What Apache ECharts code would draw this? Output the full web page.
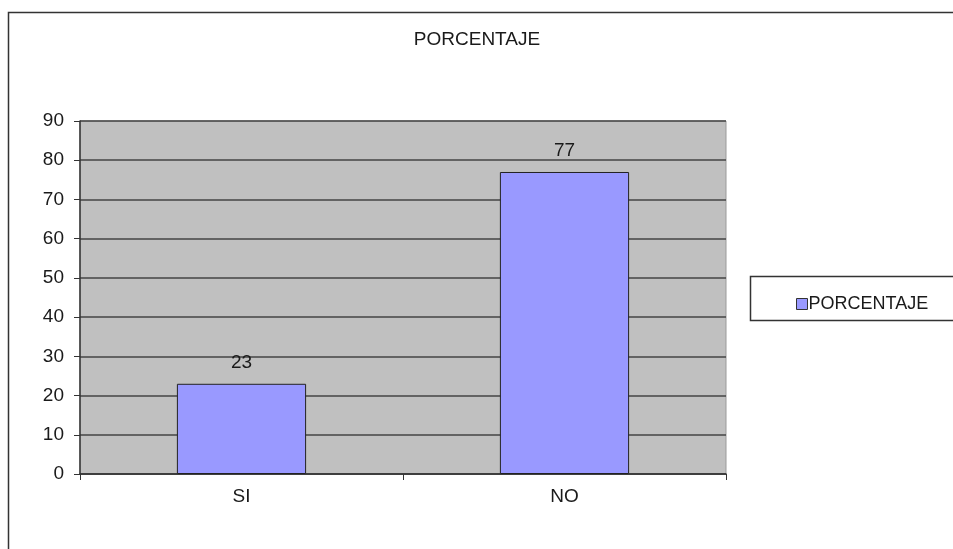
<!DOCTYPE html>
<html>
<head>
<meta charset="utf-8">
<script src="https://cdn.jsdelivr.net/npm/echarts@6/dist/echarts.min.js"></script>
<style>
html, body { margin: 0; padding: 0; background: #fff; }
#main { width: 953px; height: 549px; }
</style>
</head>
<body>
<div id="main"></div>
<script>
var categories = ['SI', 'NO'];
var porcentaje = [23, 77];
var seriesName = 'PORCENTAJE';

var myChart = echarts.init(document.getElementById('main'));

var option = {
    animation: false,
    textStyle: { fontFamily: 'Liberation Sans, Arial, sans-serif' },
    title: {
        text: 'PORCENTAJE',
        left: 472,
        top: 25,
        textAlign: 'center',
        textStyle: { fontSize: 19, fontWeight: 'normal', color: '#1a1a1a' }
    },
    graphic: [{
        type: 'rect',
        shape: { x: 8.5, y: 12.5, width: 960, height: 560 },
        style: { fill: 'none', stroke: '#333', lineWidth: 1.5 },
        z: -10
    }, {
        type: 'rect',
        shape: { x: 750.5, y: 276.5, width: 220, height: 44 },
        style: { fill: '#fff', stroke: '#333', lineWidth: 1.5 },
        z: 0
    }],
    legend: {
        data: [seriesName],
        left: 791,
        top: 290,
        itemWidth: 11,
        itemHeight: 11,
        itemGap: 2,
        icon: 'rect',
        textStyle: { fontSize: 18, color: '#1a1a1a', padding: [0, 0, 0, -4] },
        itemStyle: { borderColor: '#333', borderWidth: 1 },
        z: 5
    },
    grid: {
        left: 80,
        right: 227,
        top: 121,
        bottom: 75,
        show: true,
        backgroundColor: '#C0C0C0',
        borderColor: '#9a9a9a',
        borderWidth: 1
    },
    xAxis: {
        type: 'category',
        data: categories,
        axisLine: { lineStyle: { color: '#333', width: 1.5 } },
        axisTick: { show: true, length: 6, lineStyle: { color: '#333' } },
        axisLabel: { fontSize: 19, color: '#1a1a1a', margin: 13 }
    },
    yAxis: {
        type: 'value',
        min: 0,
        max: 90,
        interval: 10,
        axisLine: { show: true, lineStyle: { color: '#333', width: 1.5 } },
        axisTick: { show: true, length: 6, lineStyle: { color: '#333' } },
        axisLabel: { fontSize: 19, color: '#1a1a1a', margin: 16 },
        splitLine: { lineStyle: { color: '#444', width: 1.5 } }
    },
    series: [{
        name: seriesName,
        type: 'bar',
        data: porcentaje,
        barWidth: '40%',
        itemStyle: { color: '#9999FF', borderColor: '#222', borderWidth: 1 },
        label: {
            show: true,
            position: 'top',
            distance: 12,
            fontSize: 19,
            color: '#1a1a1a'
        }
    }]
};

myChart.setOption(option);
window.onresize = function () {
    myChart.resize();
};
</script>
</body>
</html>
